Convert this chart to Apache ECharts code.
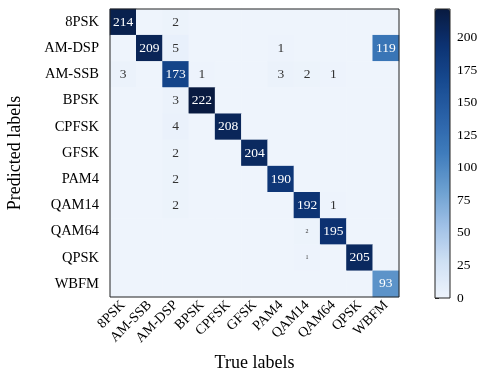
<!DOCTYPE html>
<html>

<head>
    <meta charset="utf-8">
    <title>Confusion matrix</title>
    <script src="https://cdn.jsdelivr.net/npm/echarts@6/dist/echarts.min.js"></script>
</head>

<body style="margin:0">
    <div id="main" style="width: 483px;height:373px;"></div>
    <script type="text/javascript">
        // columns = true labels, rows = predicted labels
        var trueLabels = ['8PSK', 'AM-SSB', 'AM-DSP', 'BPSK', 'CPFSK', 'GFSK', 'PAM4', 'QAM14', 'QAM64', 'QPSK', 'WBFM'];
        var predLabels = ['8PSK', 'AM-DSP', 'AM-SSB', 'BPSK', 'CPFSK', 'GFSK', 'PAM4', 'QAM14', 'QAM64', 'QPSK', 'WBFM'];

        var matrix = [
            [214, 0, 2, 0, 0, 0, 0, 0, 0, 0, 0],
            [0, 209, 5, 0, 0, 0, 1, 0, 0, 0, 119],
            [3, 0, 173, 1, 0, 0, 3, 2, 1, 0, 0],
            [0, 0, 3, 222, 0, 0, 0, 0, 0, 0, 0],
            [0, 0, 4, 0, 208, 0, 0, 0, 0, 0, 0],
            [0, 0, 2, 0, 0, 204, 0, 0, 0, 0, 0],
            [0, 0, 2, 0, 0, 0, 190, 0, 0, 0, 0],
            [0, 0, 2, 0, 0, 0, 0, 192, 1, 0, 0],
            [0, 0, 0, 0, 0, 0, 0, 2, 195, 0, 0],
            [0, 0, 0, 0, 0, 0, 0, 1, 0, 205, 0],
            [0, 0, 0, 0, 0, 0, 0, 0, 0, 0, 93]
        ];

        var colorbarTicks = [0, 25, 50, 75, 100, 125, 150, 175, 200];
        var vmax = 222;

        var font = 'Liberation Serif';
        var dom = document.getElementById('main');
        var myChart = echarts.init(dom);

        var cells = [];
        matrix.forEach(function (row, r) {
            row.forEach(function (v, c) {
                var item = { value: [c, r, v], label: { color: v > 50 ? '#fff' : '#333' } };
                // two tiny annotations in the original
                if (c === 7 && (r === 8 || r === 9)) item.label.fontSize = 6;
                cells.push(item);
            });
        });

        var option = {
            animation: false,
            backgroundColor: '#fff',
            textStyle: { fontFamily: font },
            grid: [{
                left: 110, top: 9, width: 289, height: 288,
                show: true, borderColor: '#222', borderWidth: 1, z: 10,
                backgroundColor: 'transparent', containLabel: false, outerBoundsMode: 'none'
            }, {
                left: 435, top: 9, width: 15, height: 289,
                show: true, borderColor: '#222', borderWidth: 1, z: 10,
                backgroundColor: 'transparent', containLabel: false, outerBoundsMode: 'none'
            }],
            xAxis: [{
                type: 'category', gridIndex: 0, data: trueLabels,
                name: 'True labels', nameLocation: 'middle', nameGap: 57,
                nameTextStyle: { fontSize: 18, color: '#000', fontFamily: font },
                axisLine: { show: false },
                axisTick: { alignWithLabel: true, length: 5, lineStyle: { color: '#222' } },
                axisLabel: { rotate: 45, margin: 6, fontSize: 14, color: '#000', fontFamily: font, interval: 0 },
                splitLine: { show: false }
            }, {
                type: 'value', gridIndex: 1, show: false, min: 0, max: 1
            }],
            yAxis: [{
                type: 'category', gridIndex: 0, data: predLabels, inverse: true,
                name: 'Predicted labels', nameLocation: 'middle', nameGap: 86,
                nameTextStyle: { fontSize: 18, color: '#000', fontFamily: font },
                axisLine: { show: false },
                axisTick: { alignWithLabel: true, length: 5, lineStyle: { color: '#222' } },
                axisLabel: { margin: 11, fontSize: 14.5, color: '#000', fontFamily: font, interval: 0 },
                splitLine: { show: false }
            }, {
                type: 'value', gridIndex: 1, position: 'right', min: 0, max: vmax,
                axisLine: { show: false },
                axisTick: { show: true, length: 4, customValues: colorbarTicks, lineStyle: { color: '#222' } },
                axisLabel: { margin: 7, fontSize: 13.5, color: '#000', fontFamily: font, customValues: colorbarTicks },
                splitLine: { show: false }
            }],
            visualMap: {
                type: 'continuous',
                seriesIndex: 0,
                min: 0, max: vmax,
                calculable: false,
                left: 435, top: 9,
                itemWidth: 15, itemHeight: 289,
                padding: 0,
                text: null,
                showLabel: false,
                inRange: {
                    color: ['#eef4fc', '#cfe0f4', '#9fc0e6', '#6b9fd0', '#3f7cbc', '#2a62a8', '#174a90', '#0c3272', '#081a40']
                }
            },
            series: [{
                type: 'heatmap',
                xAxisIndex: 0, yAxisIndex: 0,
                data: cells,
                label: {
                    show: true,
                    fontSize: 13.5,
                    fontFamily: font,
                    formatter: function (p) { return p.value[2] ? String(p.value[2]) : ''; }
                },
                emphasis: { disabled: true }
            }]
        };

        myChart.setOption(option);
    </script>
</body>

</html>
